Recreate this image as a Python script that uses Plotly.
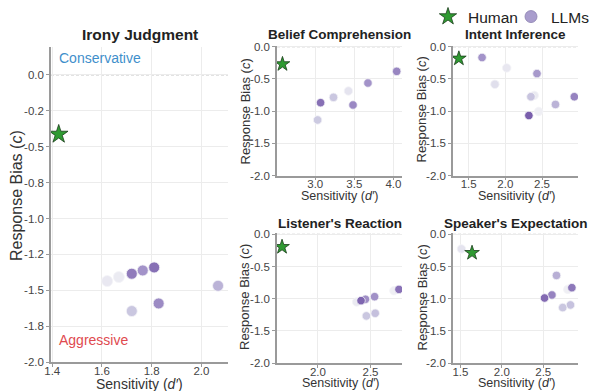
import plotly.graph_objects as go

W, H = 595, 391
FONT = "Liberation Sans, Arial, sans-serif"

# ---- data: sensitivity (d') and response bias (c) per task ----
# LLM shade = relative model scale (0 = smallest, 1 = largest)
irony_llm_d = [1.621, 1.668, 1.720, 1.764, 1.810, 2.067, 1.828, 1.720]
irony_llm_c = [-1.436, -1.408, -1.385, -1.362, -1.341, -1.469, -1.592, -1.645]
irony_llm_shade = [0.05, 0.03, 0.80, 0.62, 0.88, 0.42, 0.68, 0.30]
irony_human = (1.426, -0.413)

belief_llm_d = [4.042, 3.674, 3.424, 3.233, 3.068, 3.483, 3.030]
belief_llm_c = [-0.382, -0.563, -0.687, -0.786, -0.868, -0.904, -1.137]
belief_llm_shade = [0.72, 0.62, 0.08, 0.30, 0.88, 0.70, 0.28]
belief_human = (2.580, -0.269)

intent_llm_d = [1.683, 2.018, 2.431, 1.858, 2.394, 2.349, 2.940, 2.683, 2.454, 2.321]
intent_llm_c = [-0.167, -0.328, -0.417, -0.583, -0.755, -0.776, -0.776, -0.896, -1.005, -1.068]
intent_llm_shade = [0.62, 0.06, 0.58, 0.12, 0.04, 0.32, 0.74, 0.42, 0.0, 1.0]
intent_human = (1.367, -0.182)

listener_llm_d = [2.723, 2.771, 2.539, 2.452, 2.368, 2.410, 2.545, 2.461]
listener_llm_c = [-0.876, -0.856, -0.969, -1.010, -1.052, -1.031, -1.227, -1.268]
listener_llm_shade = [0.0, 0.86, 0.64, 0.66, 0.04, 0.95, 0.34, 0.30]
listener_human = (1.658, -0.196)

speaker_llm_d = [1.512, 2.660, 2.796, 2.846, 2.605, 2.516, 2.829, 2.735]
speaker_llm_c = [-0.227, -0.639, -0.856, -0.830, -0.943, -0.990, -1.098, -1.139]
speaker_llm_shade = [0.08, 0.45, 0.0, 0.82, 0.74, 0.92, 0.33, 0.30]
speaker_human = (1.640, -0.289)

titles = ["Irony Judgment", "Belief Comprehension", "Intent Inference",
          "Listener's Reaction", "Speaker's Expectation"]
x_label = "Sensitivity (<i>d′</i>)"
y_label = "Response Bias (<i>c</i>)"

main_yticks = [0.0, -0.25, -0.5, -0.75, -1.0, -1.25, -1.5, -1.75, -2.0]
main_xticks = [1.4, 1.6, 1.8, 2.0]
small_yticks = [0.0, -0.5, -1.0, -1.5, -2.0]

PURPLES = [[0.0, "#efeff4"], [0.3, "#cac7e0"], [0.6, "#a596ca"], [1.0, "#7a5fac"]]

# panel geometry in pixels: plot box, title row, axis-label positions
panels = [
    dict(d=irony_llm_d, c=irony_llm_c, s=irony_llm_shade, h=irony_human,
         px=(51, 228), py=(47, 362), xr=[1.395, 2.107], yr=[-2.0, 0.195],
         xt=main_xticks, yt=main_yticks, big=True,
         title_y=35, xlab=(139, 383.5), ylab=(16, 196)),
    dict(d=belief_llm_d, c=belief_llm_c, s=belief_llm_shade, h=belief_human,
         px=(277, 402), py=(45.5, 175.5), xr=[2.51, 4.11], yr=[-2.0, 0.02],
         xt=[3.0, 3.5, 4.0], yt=small_yticks, big=False,
         title_y=35, xlab=(339.5, 195.5), ylab=(244.5, 112)),
    dict(d=intent_llm_d, c=intent_llm_c, s=intent_llm_shade, h=intent_human,
         px=(453, 578), py=(45.5, 175.5), xr=[1.287, 2.99], yr=[-2.0, 0.02],
         xt=[1.5, 2.0, 2.5], yt=small_yticks, big=False,
         title_y=35, xlab=(516, 195.5), ylab=(421.5, 110)),
    dict(d=listener_llm_d, c=listener_llm_c, s=listener_llm_shade, h=listener_human,
         px=(277, 402), py=(233, 363), xr=[1.61, 2.80], yr=[-2.0, 0.02],
         xt=[2.0, 2.5], yt=small_yticks, big=False,
         title_y=223, xlab=(340, 383), ylab=(244.5, 297.5)),
    dict(d=speaker_llm_d, c=speaker_llm_c, s=speaker_llm_shade, h=speaker_human,
         px=(453, 578), py=(233, 363), xr=[1.41, 2.92], yr=[-2.0, 0.02],
         xt=[1.5, 2.0, 2.5], yt=small_yticks, big=False,
         title_y=223, xlab=(516, 383), ylab=(421.5, 298)),
]

fig = go.Figure()
layout = dict(
    width=W, height=H, margin=dict(l=0, r=0, t=0, b=0, autoexpand=False),
    paper_bgcolor="white", plot_bgcolor="white",
    font=dict(family=FONT, color="#333"),
    showlegend=True,
)
annotations = []
shapes = []


def paper_xy(x_px, y_px):
    return x_px / W, 1 - y_px / H


for i, p in enumerate(panels):
    k = "" if i == 0 else str(i + 1)
    xa, ya = "x" + k, "y" + k
    big = p["big"]
    tick_font = dict(size=11.5, color="#444", family=FONT)
    axis_common = dict(showline=True, linecolor="#9a9a9a", linewidth=1.5,
                       ticks="outside", ticklen=3, tickcolor="#9a9a9a", tickwidth=1,
                       showgrid=True, gridcolor="#ececec", gridwidth=0.8,
                       zeroline=False, tickfont=tick_font, fixedrange=True,
                       automargin=False)
    layout["xaxis" + k] = dict(
        domain=[p["px"][0] / W, p["px"][1] / W], anchor=ya, range=p["xr"],
        tickvals=p["xt"], ticktext=[f"{v:.1f}" for v in p["xt"]],
        ticklabelstandoff=-6, **axis_common)
    layout["yaxis" + k] = dict(
        domain=[1 - p["py"][1] / H, 1 - p["py"][0] / H], anchor=xa, range=p["yr"],
        tickvals=p["yt"], ticktext=[f"{v:.1f}" for v in p["yt"]],
        **axis_common)

    # reference line at c = 0
    shapes.append(dict(type="line", xref=xa + " domain", yref=ya, x0=0, x1=1, y0=0, y1=0,
                       line=dict(color="#b0b0b0", width=0.8, dash="3px,2px"), layer="below"))

    fig.add_trace(go.Scatter(
        x=p["d"], y=p["c"], mode="markers", xaxis=xa, yaxis=ya, showlegend=False,
        name="LLMs",
        marker=dict(size=11 if big else 8.5, color=p["s"], colorscale=PURPLES,
                    cmin=0, cmax=1, line=dict(color="#f4f4f8", width=0.8))))
    fig.add_trace(go.Scatter(
        x=[p["h"][0]], y=[p["h"][1]], mode="markers", xaxis=xa, yaxis=ya,
        showlegend=False, name="Human",
        marker=dict(symbol="star", size=14 if big else 11, color="#2f9a32",
                    line=dict(color="#1b3d1b", width=0.8))))

    # panel title
    tx, ty = paper_xy((p["px"][0] + p["px"][1]) / 2, p["title_y"])
    annotations.append(dict(text=f"<b>{titles[i]}</b>", xref="paper", yref="paper",
                            x=tx, y=ty, xanchor="center", yanchor="middle",
                            showarrow=False,
                            font=dict(size=15.5 if big else 13.5, color="#222", family=FONT)))
    # axis titles
    lx, ly = paper_xy(*p["xlab"])
    annotations.append(dict(text=x_label, xref="paper", yref="paper", x=lx, y=ly,
                            xanchor="center", yanchor="middle", showarrow=False,
                            font=dict(size=14 if big else 12.5, color="#333", family=FONT)))
    vx, vy = paper_xy(*p["ylab"])
    annotations.append(dict(text=y_label, xref="paper", yref="paper", x=vx, y=vy,
                            xanchor="center", yanchor="middle", showarrow=False,
                            textangle=-90,
                            font=dict(size=16 if big else 13, color="#333", family=FONT)))

# region labels in the irony panel
annotations.append(dict(text="Conservative", xref="x domain", yref="y domain",
                        x=0.035, y=0.965, xanchor="left", yanchor="middle", showarrow=False,
                        font=dict(size=14, color="#3f8fcb", family=FONT)))
annotations.append(dict(text="Aggressive", xref="x domain", yref="y domain",
                        x=0.035, y=0.07, xanchor="left", yanchor="middle", showarrow=False,
                        font=dict(size=14, color="#e04a4f", family=FONT)))

# legend entries
fig.add_trace(go.Scatter(x=[None], y=[None], mode="markers", name="Human",
                         marker=dict(symbol="star", size=13, color="#2f9a32",
                                     line=dict(color="#1b3d1b", width=0.8))))
fig.add_trace(go.Scatter(x=[None], y=[None], mode="markers", name="LLMs",
                         marker=dict(size=12, color="#a99dcd",
                                     line=dict(color="#8a80b0", width=0.8))))

layout["legend"] = dict(orientation="h", x=428 / W, xanchor="left", y=1.0, yanchor="top",
                        font=dict(size=15.5, color="#222", family=FONT),
                        bgcolor="rgba(0,0,0,0)", entrywidth=38, entrywidthmode="pixels",
                        tracegroupgap=0)
layout["annotations"] = annotations
layout["shapes"] = shapes
fig.update_layout(**layout)

fig.write_html("out.html",
               post_script="document.body.style.margin='0';document.body.style.padding='0';")
